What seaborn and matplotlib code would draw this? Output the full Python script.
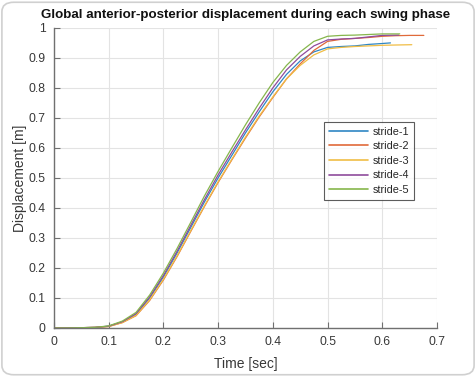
import numpy as np
import pandas as pd
import matplotlib
matplotlib.use("Agg")
import matplotlib.pyplot as plt
from matplotlib.patches import FancyBboxPatch
import seaborn as sns

time_grid = [0.0, 0.025, 0.05, 0.075, 0.1, 0.125, 0.15, 0.175, 0.2, 0.225, 0.25,
             0.275, 0.3, 0.325, 0.35, 0.375, 0.4, 0.425, 0.45, 0.475, 0.5,
             0.525, 0.55, 0.575, 0.6]

stride1_t = time_grid + [0.615]
stride1_y = [0, 0, .001, .002, .006, .02, .046, .10, .17, .25, .335, .42, .50, .575,
             .65, .72, .787, .845, .89, .92, .935, .938, .94, .945, .948, .95]

stride2_t = time_grid + [0.625, 0.65, 0.676]
stride2_y = [0, 0, .001, .002, .005, .018, .041, .092, .16, .238, .322, .405, .485, .56,
             .633, .703, .768, .83, .88, .925, .955, .962, .965, .968, .972, .974, .975, .975]

stride3_t = time_grid + [0.625, 0.654]
stride3_y = [0, 0, .001, .002, .005, .018, .042, .094, .162, .24, .324, .407, .487, .562,
             .636, .706, .77, .83, .875, .91, .93, .935, .938, .94, .942, .943, .944]

stride4_t = time_grid + [0.63]
stride4_y = [0, 0, .001, .002, .006, .021, .048, .104, .175, .256, .342, .428, .51, .586,
             .66, .732, .80, .86, .905, .94, .96, .963, .965, .97, .975, .976]

stride5_t = time_grid + [0.632]
stride5_y = [0, 0, .001, .002, .007, .023, .052, .11, .183, .265, .352, .44, .522, .60,
             .677, .75, .818, .875, .92, .955, .972, .975, .976, .978, .98, .98]

stride_names = ["stride-1", "stride-2", "stride-3", "stride-4", "stride-5"]
colors = ["#2f86c4", "#e06a3a", "#f0bd45", "#8f4b9c", "#86b64c"]

x_ticks = [0, 0.1, 0.2, 0.3, 0.4, 0.5, 0.6, 0.7]
x_tick_labels = ["0", "0.1", "0.2", "0.3", "0.4", "0.5", "0.6", "0.7"]
y_ticks = [0, 0.1, 0.2, 0.3, 0.4, 0.5, 0.6, 0.7, 0.8, 0.9, 1.0]
y_tick_labels = ["0", "0.1", "0.2", "0.3", "0.4", "0.5", "0.6", "0.7", "0.8", "0.9", "1"]

frames = []
for name, t, y in zip(stride_names,
                      [stride1_t, stride2_t, stride3_t, stride4_t, stride5_t],
                      [stride1_y, stride2_y, stride3_y, stride4_y, stride5_y]):
    frames.append(pd.DataFrame({"time": t, "disp": y, "stride": name}))
df = pd.concat(frames, ignore_index=True)

sns.set_style("whitegrid")
plt.rcParams["font.family"] = ["Liberation Sans", "DejaVu Sans"]

fig = plt.figure(figsize=(4.76, 3.77), dpi=100)
ax = fig.add_axes([0.1134, 0.130, 0.8046, 0.796])

sns.lineplot(data=df, x="time", y="disp", hue="stride", palette=colors,
             hue_order=stride_names, linewidth=0.9, ax=ax, sort=False)

ax.set_xlim(0, 0.7)
ax.set_ylim(0, 1)
ax.set_xticks(x_ticks)
ax.set_xticklabels(x_tick_labels)
ax.set_yticks(y_ticks)
ax.set_yticklabels(y_tick_labels)
ax.grid(True, color="#e3e3e3", linewidth=0.8)
ax.set_facecolor("white")
for s in ["top", "right"]:
    ax.spines[s].set_visible(False)
for s in ["left", "bottom"]:
    ax.spines[s].set_visible(True)
    ax.spines[s].set_color("#707070")
    ax.spines[s].set_linewidth(1.0)
ax.tick_params(axis="both", direction="in", length=4, width=0.8, color="#707070",
               labelsize=8.7, labelcolor="#383838", pad=6, left=True, bottom=True)

ax.set_xlabel("Time [sec]", fontsize=10, color="#383838", labelpad=6)
ax.set_ylabel("Displacement [m]", fontsize=10, color="#383838", labelpad=1)
ax.set_title("Global anterior-posterior displacement during each swing phase",
             fontsize=9.6, fontweight="bold", color="#111111", pad=7)

leg = ax.legend(loc="upper left", bbox_to_anchor=(0.69, 0.705), fontsize=7.8,
                frameon=True, fancybox=False, edgecolor="#333333", handlelength=3.6,
                borderpad=0.45, labelspacing=0.42, handletextpad=0.5)
leg.get_frame().set_linewidth(0.8)
for line in leg.get_lines():
    line.set_linewidth(1.2)

border = FancyBboxPatch((0.004, 0.006), 0.992, 0.988, boxstyle="round,pad=0,rounding_size=0.025",
                        transform=fig.transFigure, facecolor="none", edgecolor="#d0d0d0",
                        linewidth=1.2)
fig.patches.append(border)

fig.savefig("out.png", dpi=100)
